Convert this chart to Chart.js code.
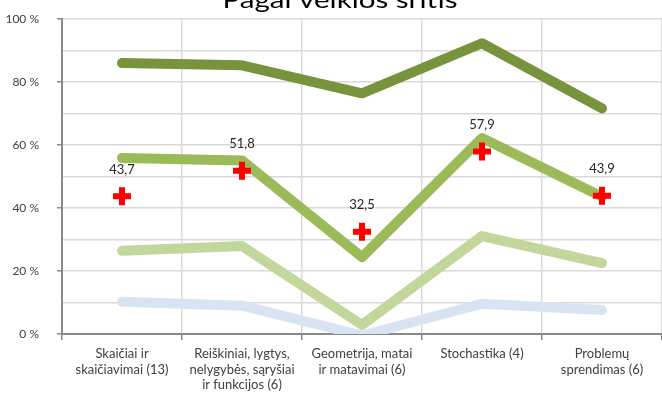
<!DOCTYPE html>
<html><head><meta charset="utf-8">
<script src="https://cdn.jsdelivr.net/npm/chart.js@4/dist/chart.umd.min.js"></script>
<style>html,body{margin:0;padding:0;background:#fff;}#wrap{width:662px;height:401px;}</style>
</head><body><div id="wrap"><canvas id="c" width="662" height="401"></canvas></div>
<script>
const categories = [
  ["Skaičiai ir", "skaičiavimai (13)"],
  ["Reiškiniai, lygtys,", "nelygybės, sąryšiai", "ir funkcijos (6)"],
  ["Geometrija, matai", "ir matavimai (6)"],
  ["Stochastika (4)"],
  ["Problemų", "sprendimas (6)"]
];
const seriesTop = [86, 85.3, 76.4, 92.3, 71.6];
const seriesHigh = [55.9, 55.1, 24.4, 62.2, 43.6];
const seriesMid = [26.4, 27.9, 2.9, 31.1, 22.5];
const seriesLow = [10.2, 9.0, -0.5, 9.6, 7.6];
const averages = [43.7, 51.8, 32.5, 57.9, 43.9];
const averageLabels = ["43,7", "51,8", "32,5", "57,9", "43,9"];
const yTicks = [0, 20, 40, 60, 80, 100];
const titleText = "Pagal veiklos sritis";

const lineDs = (data, color, w) => ({
  type: 'line', data, borderColor: color, backgroundColor: color, borderWidth: w,
  pointRadius: 0, pointHoverRadius: 0, borderCapStyle: 'round', borderJoinStyle: 'round',
  tension: 0, fill: false
});

const extras = {
  id: 'extras',
  afterDatasetsDraw(chart) {
    const ctx = chart.ctx;
    const meta = chart.getDatasetMeta(0);
    ctx.save();
    ctx.font = '13px Lato, "Liberation Sans", sans-serif';
    ctx.fillStyle = '#262626';
    ctx.textAlign = 'center';
    ctx.textBaseline = 'middle';
    meta.data.forEach((pt, i) => {
      ctx.fillText(averageLabels[i], pt.x, pt.y - 27);
    });
    ctx.font = '24px Lato, "Liberation Sans", sans-serif';
    const w = ctx.measureText(titleText).width;
    const sx = 235 / w;
    ctx.textBaseline = 'alphabetic';
    ctx.fillStyle = '#000';
    ctx.translate(340, 8);
    ctx.scale(sx, 1);
    ctx.fillText(titleText, 0, 0);
    ctx.restore();
  }
};

new Chart(document.getElementById('c'), {
  type: 'line',
  data: {
    labels: categories,
    datasets: [
      { type: 'line', data: averages, showLine: false, pointStyle: 'cross', pointRadius: 9,
        pointBorderWidth: 6, pointBorderColor: '#FF0000', pointBackgroundColor: '#FF0000',
        pointHoverRadius: 9, borderColor: '#FF0000' },
      lineDs(seriesTop, '#77933C', 10),
      lineDs(seriesHigh, '#9BBB59', 10),
      lineDs(seriesMid, '#C3D69B', 10),
      lineDs(seriesLow, '#D9E4F3', 10)
    ]
  },
  options: {
    responsive: false, animation: false,
    layout: { autoPadding: false, padding: { top: 19, right: 0, left: 0, bottom: 0 } },
    plugins: { legend: { display: false }, title: { display: false }, tooltip: { enabled: false } },
    scales: {
      x: {
        offset: true,
        grid: { offset: true, color: '#D9D9D9', lineWidth: 1.5, tickLength: 6, tickColor: '#898989' },
        border: { color: '#898989', width: 2 },
        ticks: { color: '#404040', font: { family: 'Lato, "Liberation Sans", sans-serif', size: 13 },
                 padding: 6, maxRotation: 0, autoSkip: false },
        afterFit(s) { s.height = 67; s.paddingLeft = 0; s.paddingRight = 0; }
      },
      y: {
        min: 0, max: 100,
        grid: { color: '#D9D9D9', lineWidth: 1.5, tickLength: 5,
                tickColor: c => (c.tick && yTicks.includes(c.tick.value)) ? '#898989' : 'rgba(0,0,0,0)' },
        border: { color: '#898989', width: 2 },
        ticks: { stepSize: 10, autoSkip: false, color: '#404040', padding: 18,
                 font: { family: 'Lato, "Liberation Sans", sans-serif', size: 12 },
                 callback: v => yTicks.includes(v) ? v + ' %' : '' },
        afterFit(s) { s.width = 62; s.paddingTop = 0; s.paddingBottom = 0; }
      }
    }
  },
  plugins: [extras]
});
</script></body></html>
